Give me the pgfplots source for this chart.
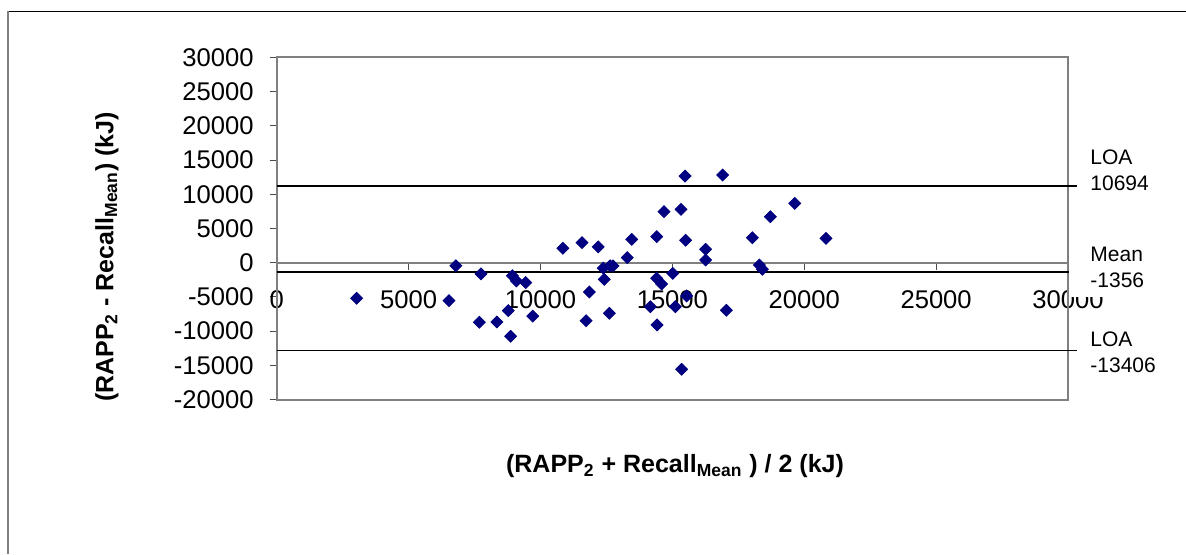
\documentclass[border=0pt]{standalone}
\usepackage{pgfplots}
\pgfplotsset{compat=1.18}
\usepackage{fontspec}
\setmainfont{Liberation Sans}
\definecolor{navy}{RGB}{0,0,128}
\definecolor{axgray}{RGB}{128,128,128}
\begin{document}
\begin{tikzpicture}[x=1pt,y=1pt]
\useasboundingbox (0,0) rectangle (593,277);
\draw[black, line width=0.5pt] (4,271.5) -- (593,271.5);
\draw[axgray, line width=1pt] (4,0) -- (4,271.5);
\begin{axis}[
  at={(138.35pt,77.2pt)}, anchor=south west,
  width=395.65pt, height=171.15pt, scale only axis,
  xmin=0, xmax=30000, ymin=-20000, ymax=30000,
  axis x line=middle, axis y line=left,
  axis line style={-, axgray, line width=1pt},
  xtick={0,5000,...,30000}, ytick={-20000,-15000,...,30000},
  tick align=outside, major tick length=3.5pt,
  tick style={black!70, line width=0.5pt},
  hide obscured x ticks=false,
  scaled ticks=false,
  /pgf/number format/1000 sep={},
  /pgf/number format/assume math mode=true,
  ticklabel style={font=\fontsize{12.8}{14}\selectfont},
  xticklabel style={yshift=-7pt},
  yticklabel style={xshift=-4.5pt},
  clip=false,
]
\draw[axgray, line width=1pt] (rel axis cs:0,0) rectangle (rel axis cs:1,1);
\addplot[black, line width=0.8pt] coordinates {(0,11200) (30330,11200)};
\addplot[black, line width=0.8pt] coordinates {(0,-1320) (30330,-1320)};
\addplot[black, line width=0.8pt] coordinates {(0,-12850) (30330,-12850)};
\addplot[only marks, mark=square*, mark size=2.1pt, mark options={rotate=45, draw=navy, fill=navy}] coordinates {
(3030,-5200) (6530,-5550) (6790,-440) (7745,-1650) (7680,-8700)
(8350,-8660) (8780,-7010) (8870,-10750) (8934,-1900) (9090,-2670)
(9440,-2900) (9710,-7800) (10850,2100) (11575,2920) (11850,-4280)
(11730,-8470) (12190,2300) (12380,-800) (12640,-450) (12750,-450)
(12420,-2430) (12610,-7390) (13290,730) (13460,3420) (14406,3800)
(14683,7450) (15328,7800) (15480,12660) (15505,3270) (16264,1960)
(16264,390) (14406,-2280) (14596,-3110) (15013,-1550) (15544,-4860)
(14164,-6430) (15111,-6430) (14418,-9100) (15354,-15570) (16909,12810)
(17048,-6950) (18031,3650) (18714,6720) (19638,8670) (20826,3560)
(18297,-340) (18411,-960)
};
\end{axis}
\node[anchor=west, align=left, font=\fontsize{10.5}{13}\selectfont, inner sep=0pt] at (545,191.85) {LOA\\10694};
\node[anchor=west, align=left, font=\fontsize{10.5}{13}\selectfont, fill=white, inner xsep=10.5pt, inner ysep=4.5pt] at (534.5,143.1) {Mean\\-1356};
\node[anchor=west, align=left, font=\fontsize{10.5}{13}\selectfont, inner sep=0pt] at (545,100.75) {LOA\\-13406};
\node[rotate=90, font=\bfseries\fontsize{12.5}{14}\selectfont] at (53.5,148.5) {(RAPP\textsubscript{2} - Recall\textsubscript{Mean}) (kJ)};
\node[font=\bfseries\fontsize{12.5}{14}\selectfont] at (337.5,44) {(RAPP\textsubscript{2} + Recall\textsubscript{Mean} ) / 2 (kJ)};
\end{tikzpicture}
\end{document}
